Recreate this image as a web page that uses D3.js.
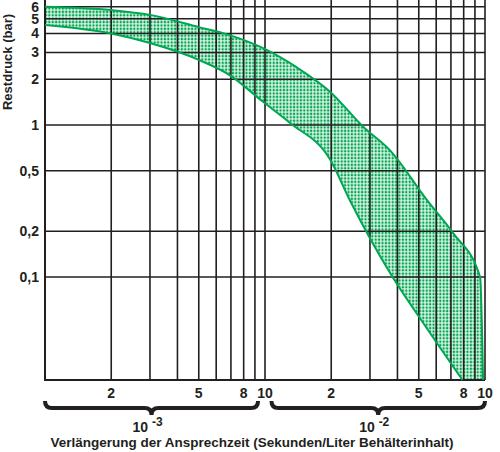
<!DOCTYPE html>
<html>
<head>
<meta charset="UTF-8">
<title>Restdruck</title>
<script src="https://cdn.jsdelivr.net/npm/d3@7"></script>
<style>
	body { margin: 0; background: #fff; }
	text { font-family: "Liberation Sans", Arial, sans-serif; font-weight: bold; fill: #231f20; }
</style>
</head>
<body>
<div id="chart"></div>
<script>
// x in units of 10^-4 s/l (1..100), y in bar
var upperEdge = [[1,6.0],[2,5.7],[3,5.3],[5,4.4],[6.9,3.9],[9.8,3.2],[13.9,2.4],[19.8,1.65],[28,0.97],[37,0.68],[54.5,0.32],[71.5,0.195],[95,0.1],[98,0.021]];
var lowerEdge = [[1,4.55],[2,4.0],[3,3.46],[5,2.68],[6.9,2.13],[9.8,1.42],[13,1.03],[19.8,0.59],[24.3,0.32],[38,0.1],[52.3,0.05],[79,0.021]];
var yTicks = [6,5,4,3,2,1,0.5,0.2,0.1];
var yTickLabels = ["6","5","4","3","2","1","0,5","0,2","0,1"];
var xGrid = [1,2,3,4,5,6,7,8,9,10,20,30,40,50,60,70,80,90,100];
var xTicks = [2,5,8,10,20,50,80,100];
var xTickLabels = ["2","5","8","10","2","5","8","10"];
var decades = [{from:1, to:9.3, label:"-3"}, {from:10.7, to:100, label:"-2"}];

var W = 500, H = 452;
var svg = d3.select("#chart").append("svg").attr("width", W).attr("height", H);

var x = d3.scaleLog().domain([1,100]).range([45,485]);
var y = d3.scaleLog().domain([0.021,6.64]).range([380,0]);

// dotted fill
var pat = svg.append("defs").append("pattern").attr("id","dots")
	.attr("width",3.4).attr("height",3.4).attr("patternUnits","userSpaceOnUse");
pat.append("rect").attr("width",3.4).attr("height",3.4).attr("fill","#d8f2e3");
pat.append("circle").attr("cx",1.7).attr("cy",1.7).attr("r",1.2).attr("fill","#00a651");

var line = d3.line().x(function(d){ return x(d[0]); }).y(function(d){ return y(d[1]); })
	.curve(d3.curveMonotoneX);
var band = line(upperEdge) + line(lowerEdge.slice().reverse()).replace(/^M/,"L") + "Z";
svg.append("path").attr("d", band).attr("fill","url(#dots)").attr("stroke","none");

// grid
svg.selectAll(".vg").data(xGrid).enter().append("line")
	.attr("x1", function(d){ return x(d); }).attr("x2", function(d){ return x(d); })
	.attr("y1", 0).attr("y2", 380).attr("stroke","#231f20").attr("stroke-width",1.6);
svg.selectAll(".hg").data(yTicks).enter().append("line")
	.attr("x1", 45).attr("x2", 485)
	.attr("y1", function(d){ return y(d); }).attr("y2", function(d){ return y(d); })
	.attr("stroke","#231f20").attr("stroke-width",1.6);
svg.append("line").attr("x1",44).attr("x2",485).attr("y1",380).attr("y2",380)
	.attr("stroke","#231f20").attr("stroke-width",2);
svg.append("line").attr("x1",45).attr("x2",45).attr("y1",0).attr("y2",380)
	.attr("stroke","#231f20").attr("stroke-width",2);

// band outlines
svg.append("path").attr("d", line(upperEdge)).attr("fill","none").attr("stroke","#00a651").attr("stroke-width",2);
svg.append("path").attr("d", line(lowerEdge)).attr("fill","none").attr("stroke","#00a651").attr("stroke-width",2);

// y labels
svg.selectAll(".yl").data(yTicks).enter().append("text")
	.attr("x", 39).attr("y", function(d){ return y(d) + 5; })
	.attr("text-anchor","end").attr("font-size",14)
	.text(function(d,i){ return yTickLabels[i]; });
svg.append("text").attr("transform","translate(12,62) rotate(-90)")
	.attr("text-anchor","middle").attr("font-size",13).text("Restdruck (bar)");

// x labels
svg.selectAll(".xl").data(xTicks).enter().append("text")
	.attr("x", function(d){ return x(d); }).attr("y", 398)
	.attr("text-anchor","middle").attr("font-size",14)
	.text(function(d,i){ return xTickLabels[i]; });

// braces
decades.forEach(function(dc){
	var x1 = x(dc.from), x2 = x(dc.to), m = (x1 + x2) / 2, y0 = 401, d = 7;
	var p = "M" + x1 + "," + y0 + " Q" + x1 + "," + (y0+d) + " " + (x1+d) + "," + (y0+d)
		+ " L" + (m-d) + "," + (y0+d) + " Q" + m + "," + (y0+d) + " " + m + "," + (y0+2*d)
		+ " Q" + m + "," + (y0+d) + " " + (m+d) + "," + (y0+d)
		+ " L" + (x2-d) + "," + (y0+d) + " Q" + x2 + "," + (y0+d) + " " + x2 + "," + y0;
	svg.append("path").attr("d", p).attr("fill","none").attr("stroke","#231f20").attr("stroke-width",4);
	var t = svg.append("text").attr("x", m - 4).attr("y", 432).attr("text-anchor","middle").attr("font-size",14);
	t.append("tspan").text("10 ");
	t.append("tspan").attr("dy",-6).attr("font-size",12).text(dc.label);
});

svg.append("text").attr("x", 252).attr("y", 447).attr("text-anchor","middle").attr("font-size",13.5)
	.text("Verlängerung der Ansprechzeit (Sekunden/Liter Behälterinhalt)");
</script>
</body>
</html>
